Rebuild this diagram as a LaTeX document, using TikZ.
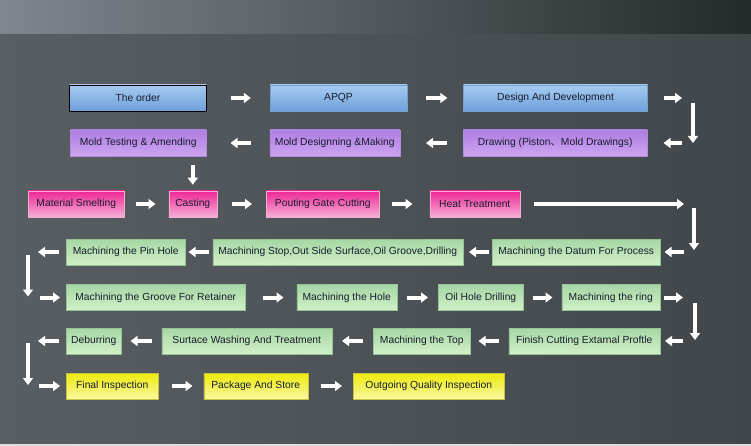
\documentclass[tikz,border=0pt]{standalone}
\usepackage{fontspec}
\setmainfont{Liberation Sans}
\newfontfamily\cjk{Noto Sans CJK SC}
\usepackage{tikz}
\usetikzlibrary{positioning,arrows.meta}
\definecolor{txtdark}{RGB}{25,28,45}
\newcommand{\Dot}{{\cjk 、}}

\begin{document}
\begin{tikzpicture}[x=1pt, y=-1pt, node distance=20pt,
    every node/.style={font=\fontsize{10.3}{12}\selectfont, text=txtdark},
    box/.style={draw, line width=0.5pt, minimum height=26pt, inner xsep=1pt, inner ysep=0pt},
    blue/.style={box, draw={rgb,255:red,120;green,160;blue,205}, top color={rgb,255:red,165;green,203;blue,240}, bottom color={rgb,255:red,110;green,160;blue,220}},
    purple/.style={box, draw={rgb,255:red,175;green,140;blue,220}, top color={rgb,255:red,175;green,125;blue,225}, bottom color={rgb,255:red,205;green,165;blue,240}},
    pink/.style={box, draw={rgb,255:red,245;green,170;blue,210}, top color={rgb,255:red,238;green,40;blue,150}, bottom color={rgb,255:red,246;green,175;blue,215}},
    green/.style={box, draw={rgb,255:red,150;green,195;blue,150}, top color={rgb,255:red,165;green,215;blue,165}, bottom color={rgb,255:red,210;green,240;blue,200}},
    yellow/.style={box, draw={rgb,255:red,200;green,195;blue,60}, top color={rgb,255:red,238;green,235;blue,10}, bottom color={rgb,255:red,248;green,248;blue,160}},
    flow/.style={draw=white, line width=4pt, -{Triangle[length=7pt,width=10pt]}}]

  % background
  \useasboundingbox (0,0) rectangle (751,446);
  \fill[left color={rgb,255:red,128;green,134;blue,142}, right color={rgb,255:red,36;green,42;blue,42}] (0,0) rectangle (751,35);
  \fill[left color={rgb,255:red,88;green,94;blue,98}, right color={rgb,255:red,64;green,70;blue,73}] (0,35) rectangle (751,444);
  \fill[gray!25] (0,444) rectangle (751,446);

  % row 1
  \node[blue, draw=black, line width=0.8pt, minimum width=137pt, anchor=west] (order) at (69,98) {The order};
  \node[blue, minimum width=137pt] (apqp) [right=63pt of order] {APQP};
  \node[blue, minimum width=184pt] (design) [right=56pt of apqp] {Design And Development};
  % row 2
  \node[purple, minimum width=136pt, anchor=west] (moldtest) at (70,143) {Mold Testing \& Amending};
  \node[purple, minimum width=130pt] (molddesign) [right=63pt of moldtest] {Mold Designning \&Making};
  \node[purple, minimum width=184pt] (drawing) [right=63pt of molddesign] {Drawing (Piston\Dot Mold Drawings)};
  % row 3
  \node[pink, minimum width=96pt, anchor=west] (smelt) at (28,204) {Material Smelting};
  \node[pink, minimum width=48pt] (casting) [right=44pt of smelt] {Casting};
  \node[pink, minimum width=113pt] (pouting) [right=49pt of casting] {Pouting Gate Cutting};
  \node[pink, minimum width=90pt] (heat) [right=50pt of pouting] {Heat Treatment};
  % row 4
  \node[green, minimum width=119pt, anchor=west] (pinhole) at (66,252) {Machining the Pin Hole};
  \node[green, minimum width=250pt] (stop) [right=27pt of pinhole] {Machining Stop,Out Side Surface,Oil Groove,Drilling};
  \node[green, minimum width=168pt] (datum) [right=29pt of stop] {Machining the Datum For Process};
  % row 5
  \node[green, minimum width=179pt, anchor=west] (groove) at (66,297.5) {Machining the Groove For Retainer};
  \node[green, minimum width=100pt] (hole) [right=51pt of groove] {Machining the Hole};
  \node[green, minimum width=85pt] (oilhole) [right=41pt of hole] {Oil Hole Drilling};
  \node[green, minimum width=98pt] (ring) [right=38pt of oilhole] {Machining the ring};
  % row 6
  \node[green, minimum width=55pt, anchor=west] (deburr) at (66,341) {Deburring};
  \node[green, minimum width=170pt] (washing) [right=40pt of deburr] {Surtace Washing And Treatment};
  \node[green, minimum width=97pt] (top) [right=41pt of washing] {Machining the Top};
  \node[green, minimum width=151pt] (finish) [right=38pt of top] {Finish Cutting Extarnal Proftle};
  % row 7
  \node[yellow, minimum width=92pt, anchor=west] (final) at (66,386) {Final Inspection};
  \node[yellow, minimum width=104pt] (package) [right=45pt of final] {Package And Store};
  \node[yellow, minimum width=151pt] (outgoing) [right=45pt of package] {Outgoing Quality Inspection};

  % turning points
  \coordinate (r1) at (693,98);
  \coordinate (r2) at (693,143);
  \coordinate (r3) at (694,204);
  \coordinate (r4) at (694,252);
  \coordinate (l4) at (28,252);
  \coordinate (l5) at (28,297.5);
  \coordinate (r5) at (695,297.5);
  \coordinate (r6) at (695,341);
  \coordinate (l6) at (28,341);
  \coordinate (l7) at (28,386);

  % arrows
  \draw[flow, shorten <=24pt, shorten >=19pt] (order) -- (apqp);
  \draw[flow, shorten <=19pt, shorten >=16pt] (apqp) -- (design);
  \draw[flow, shorten <=16pt, shorten >=11pt] (design) -- (r1);
  \draw[flow, shorten <=5pt] (r1) -- (r2);
  \draw[flow, shorten <=11pt, shorten >=16pt] (r2) -- (drawing);
  \draw[flow, shorten <=16pt, shorten >=26pt] (drawing) -- (molddesign);
  \draw[flow, shorten <=19pt, shorten >=24pt] (molddesign) -- (moldtest);
  \draw[flow, shorten <=9pt, shorten >=6pt] (casting.north |- moldtest.south) -- (casting.north);
  \draw[flow, shorten <=11pt, shorten >=13pt] (smelt) -- (casting);
  \draw[flow, shorten <=15pt, shorten >=14pt] (casting) -- (pouting);
  \draw[flow, shorten <=12pt, shorten >=17pt] (pouting) -- (heat);
  \draw[flow, shorten <=14pt, shorten >=10pt] (heat) -- (r3);
  \draw[flow, shorten <=4pt, shorten >=2pt] (r3) -- (r4);
  \draw[flow, shorten <=10pt, shorten >=4pt] (r4) -- (datum);
  \draw[flow, shorten <=3pt, shorten >=6pt] (datum) -- (stop);
  \draw[flow, shorten <=4pt, shorten >=3pt] (stop) -- (pinhole);
  \draw[flow, shorten <=7pt, shorten >=10pt] (pinhole) -- (l4);
  \draw[flow, shorten <=3pt, shorten >=1pt] (l4) -- (l5);
  \draw[flow, shorten <=12pt, shorten >=6pt] (l5) -- (groove);
  \draw[flow, shorten <=17pt, shorten >=13pt] (groove) -- (hole);
  \draw[flow, shorten <=10pt, shorten >=10pt] (hole) -- (oilhole);
  \draw[flow, shorten <=9pt, shorten >=9pt] (oilhole) -- (ring);
  \draw[flow, shorten <=4pt, shorten >=12pt] (ring) -- (r5);
  \draw[flow, shorten <=5pt, shorten >=1pt] (r5) -- (r6);
  \draw[flow, shorten <=12pt, shorten >=5pt] (r6) -- (finish);
  \draw[flow, shorten <=10pt, shorten >=8pt] (finish) -- (top);
  \draw[flow, shorten <=10pt, shorten >=10pt] (top) -- (washing);
  \draw[flow, shorten <=10pt, shorten >=9pt] (washing) -- (deburr);
  \draw[flow, shorten <=7pt, shorten >=10pt] (deburr) -- (l6);
  \draw[flow, shorten <=2pt, shorten >=1pt] (l6) -- (l7);
  \draw[flow, shorten <=11pt, shorten >=6pt] (l7) -- (final);
  \draw[flow, shorten <=13pt, shorten >=11pt] (final) -- (package);
  \draw[flow, shorten <=13pt, shorten >=11pt] (package) -- (outgoing);
\end{tikzpicture}
\end{document}
